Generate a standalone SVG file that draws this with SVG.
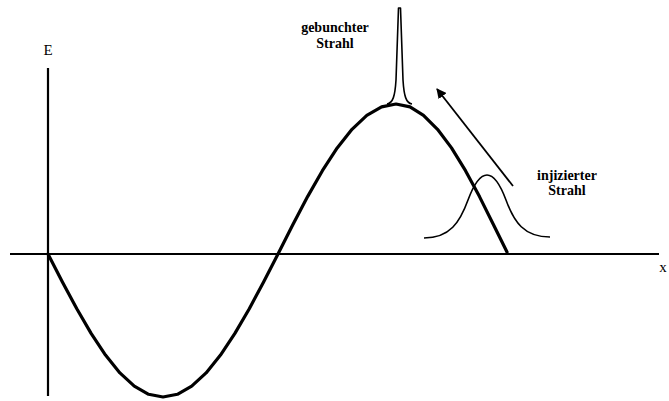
<svg xmlns="http://www.w3.org/2000/svg" width="669" height="401" viewBox="0 0 669 401">
<style>
.axis{stroke:#000;stroke-width:2.2;fill:none}
.wave{stroke:#000;stroke-width:3.2;fill:none;stroke-linejoin:round;stroke-linecap:round}
.beam{stroke:#000;stroke-width:1.6;fill:none;stroke-linejoin:round}
.lbl{font-family:"Liberation Serif",serif;font-weight:bold;font-size:14px;fill:#000;text-anchor:middle}
.ax{font-family:"Liberation Serif",serif;font-size:15px;fill:#000;text-anchor:middle}
</style>
<defs>
<marker id="ah" markerWidth="10" markerHeight="10" refX="9" refY="5" orient="auto" markerUnits="userSpaceOnUse" viewBox="0 0 10 10">
<path d="M0,0 L10,5 L0,10 Z" fill="#000"/>
</marker>
</defs>
<g id="axes">
<line class="axis" x1="48" y1="68" x2="48" y2="396"/>
<line class="axis" x1="10" y1="254" x2="659" y2="254"/>
<text class="ax" x="48" y="55">E</text>
<text class="ax" x="663" y="272">x</text>
</g>
<g id="wave">
<polyline class="wave" points="48,254 62.4,281.9 76.8,308.7 91.1,333.4 105.5,355.1 119.9,372.9 134.3,386.1 148.6,394.3 163,397 177.4,394.3 191.7,386.1 206.1,372.9 220.5,355.1 234.9,333.4 249.3,308.7 263.6,281.9 278,254 292.8,224.7 307.6,196.6 322.4,170.7 337.2,147.9 352,129.3 366.8,115.4 381.6,106.9 396,104 410,106.9 423.5,115.4 437.5,129.3 451.5,147.9 465.5,170.7 479.5,196.6 493.5,224.7 507,252"/>
</g>
<g id="bunched-beam">
<path class="beam" d="M387,104 C393,103 395,96 396,80 L398.5,8 L400.5,8 L403,80 C404,96 406,103 412,104"/>
<text class="lbl" x="335" y="32">gebunchter</text>
<text class="lbl" x="335" y="48">Strahl</text>
</g>
<g id="injected-beam">
<path class="beam" d="M424,238 C450,238 460,222 468,200 C474,184 480,175 487,175 C494,175 500,184 506,200 C514,222 524,237 550,237"/>
<text class="lbl" x="567" y="180">injizierter</text>
<text class="lbl" x="567" y="195">Strahl</text>
</g>
<g id="connectors">
<line x1="513" y1="186" x2="437" y2="89" stroke="#000" stroke-width="1.8" marker-end="url(#ah)"/>
</g>
</svg>
